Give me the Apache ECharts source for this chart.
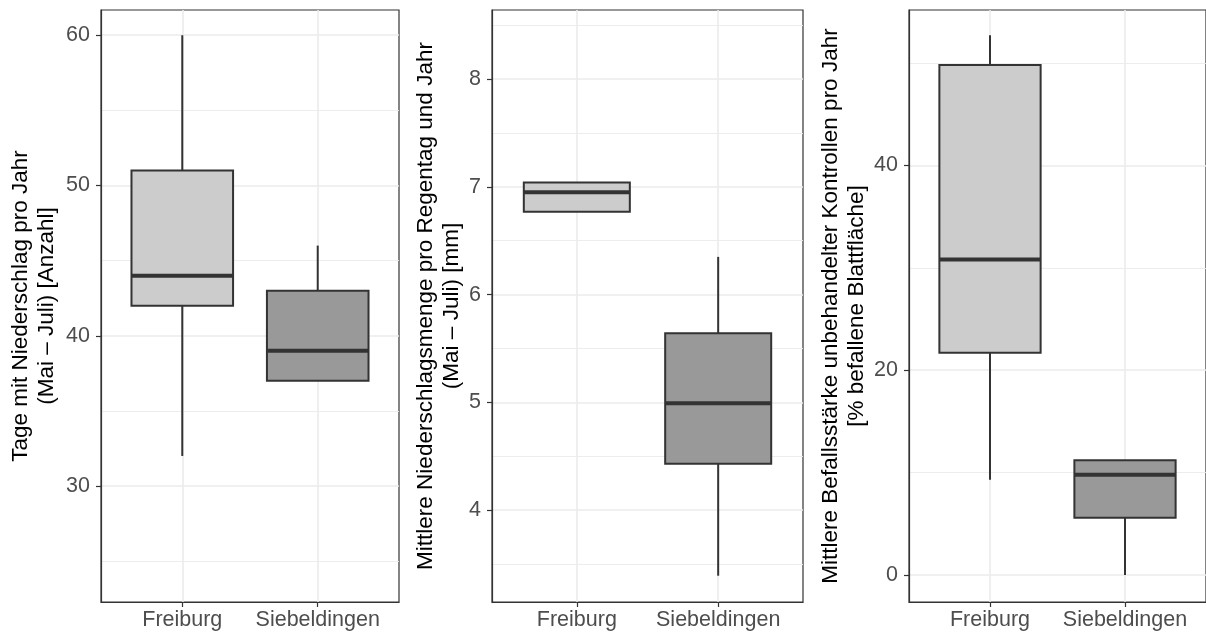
<!DOCTYPE html>
<html>
<head>
<meta charset="utf-8">
<script src="https://cdn.jsdelivr.net/npm/echarts@6/dist/echarts.min.js"></script>
<style>
html,body{margin:0;padding:0;background:#fff;}
#chart{width:1206px;height:637px;}
</style>
</head>
<body>
<div id="chart"></div>
<script>
// ---- data ----
const categories = ['Freiburg', 'Siebeldingen'];
const fills = ['#CCCCCC', '#999999'];
// [min, Q1, median, Q3, max]
const tageFreiburg      = [32, 42, 44, 51, 60];
const tageSiebeldingen  = [37, 37, 39, 43, 46];
const mengeFreiburg     = [6.77, 6.77, 6.95, 7.04, 7.04];
const mengeSiebeldingen = [3.39, 4.43, 4.99, 5.64, 6.35];
const befallFreiburg    = [9.3, 21.7, 30.8, 49.8, 52.7];
const befallSiebeldingen= [0, 5.6, 9.8, 11.2, 11.2];

const ticks1 = [30, 40, 50, 60];
const minor1 = [25, 35, 45, 55];
const range1 = [22.28, 61.68];
const ticks2 = [4, 5, 6, 7, 8];
const minor2 = [3.5, 4.5, 5.5, 6.5, 7.5, 8.5];
const range2 = [3.146, 8.642];
const ticks3 = [0, 20, 40];
const minor3 = [10, 30, 50];
const range3 = [-2.63, 55.17];

const title1 = 'Tage mit Niederschlag pro Jahr\n(Mai \u2013 Juli) [Anzahl]';
const title2 = 'Mittlere Niederschlagsmenge pro Regentag und Jahr\n(Mai \u2013 Juli) [mm]';
const title3 = 'Mittlere Befallsstärke unbehandelter Kontrollen pro Jahr\n[% befallene Blattfläche]';

const panels = [
  {stats: [tageFreiburg, tageSiebeldingen], ticks: ticks1, minor: minor1, range: range1, title: title1,
   grid: {left: 101, top: 10, width: 298, height: 592}, nameGap: 41},
  {stats: [mengeFreiburg, mengeSiebeldingen], ticks: ticks2, minor: minor2, range: range2, title: title2,
   grid: {left: 492, top: 10, width: 311, height: 592}, nameGap: 27},
  {stats: [befallFreiburg, befallSiebeldingen], ticks: ticks3, minor: minor3, range: range3, title: title3,
   grid: {left: 909, top: 10, width: 300, height: 592}, nameGap: 39}
];

const FONT = 'Liberation Sans, Arial, sans-serif';
const DARK = '#333333';
const GRIDC = '#EBEBEB';
const catPos = categories.map((c, i) => i + 1);

function renderBox(params, api) {
  const x = api.value(0);
  const pMin = api.coord([x, api.value(1)]);
  const pQ1 = api.coord([x, api.value(2)]);
  const pMed = api.coord([x, api.value(3)]);
  const pQ3 = api.coord([x, api.value(4)]);
  const pMax = api.coord([x, api.value(5)]);
  const half = api.size([0.75, 0])[0] / 2;
  const fill = fills[api.value(6)];
  return {
    type: 'group',
    children: [
      {type: 'line', shape: {x1: pQ3[0], y1: pQ3[1], x2: pMax[0], y2: pMax[1]}, style: {stroke: DARK, lineWidth: 2}},
      {type: 'line', shape: {x1: pQ1[0], y1: pQ1[1], x2: pMin[0], y2: pMin[1]}, style: {stroke: DARK, lineWidth: 2}},
      {type: 'rect', shape: {x: pQ3[0] - half, y: pQ3[1], width: 2 * half, height: pQ1[1] - pQ3[1]},
       style: {fill: fill, stroke: DARK, lineWidth: 2}},
      {type: 'line', shape: {x1: pMed[0] - half, y1: pMed[1], x2: pMed[0] + half, y2: pMed[1]},
       style: {stroke: DARK, lineWidth: 4}}
    ]
  };
}

const option = {
  backgroundColor: '#ffffff',
  animation: false,
  textStyle: {fontFamily: FONT},
  grid: [], xAxis: [], yAxis: [], series: []
};

panels.forEach((p, gi) => {
  option.grid.push(Object.assign({show: true, borderColor: DARK, borderWidth: 1.2, backgroundColor: 'transparent'}, p.grid));
  option.xAxis.push({
    type: 'value', gridIndex: gi, min: 0.4, max: 2.6,
    axisLine: {show: true, onZero: false, lineStyle: {color: DARK, width: 1.2}},
    axisTick: {show: true, customValues: catPos, length: 5, lineStyle: {color: DARK, width: 1.2}},
    axisLabel: {show: true, customValues: catPos, margin: 7, fontSize: 21.5, color: '#4D4D4D', fontFamily: FONT,
      formatter: v => categories[Math.round(v) - 1] || ''},
    splitLine: {show: true, lineStyle: {color: GRIDC, width: 1.6}}
  });
  // major y axis
  option.yAxis.push({
    type: 'value', gridIndex: gi, min: p.range[0], max: p.range[1],
    name: p.title, nameLocation: 'middle', nameRotate: 90, nameGap: p.nameGap,
    nameTextStyle: {fontSize: 22.5, color: '#000000', fontFamily: FONT, lineHeight: 26},
    axisLine: {show: true, onZero: false, lineStyle: {color: DARK, width: 1.2}},
    axisTick: {show: true, customValues: p.ticks, length: 5, lineStyle: {color: DARK, width: 1.2}},
    axisLabel: {show: true, customValues: p.ticks, margin: 11, fontSize: 21.5, color: '#4D4D4D', fontFamily: FONT},
    splitLine: {show: true, lineStyle: {color: GRIDC, width: 1.6}}
  });
  // minor grid y axis
  option.yAxis.push({
    type: 'value', gridIndex: gi, min: p.range[0], max: p.range[1],
    axisLine: {show: false}, axisLabel: {show: false},
    axisTick: {show: false, customValues: p.minor},
    splitLine: {show: true, lineStyle: {color: GRIDC, width: 0.9}}
  });
  const data = p.stats.map((s, i) => [catPos[i]].concat(s).concat([i]));
  option.series.push({
    type: 'custom', xAxisIndex: gi, yAxisIndex: gi * 2,
    renderItem: renderBox,
    encode: {x: 0, y: [1, 2, 3, 4, 5]},
    data: data, z: 5
  });
});

const chart = echarts.init(document.getElementById('chart'), null, {renderer: 'canvas'});
chart.setOption(option);
</script>
</body>
</html>
